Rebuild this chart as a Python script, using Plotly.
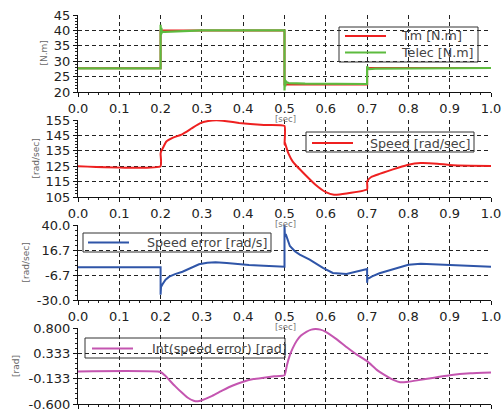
import plotly.graph_objects as go

# ---------------- data ----------------
x_ticks = [0.0, 0.1, 0.2, 0.3, 0.4, 0.5, 0.6, 0.7, 0.8, 0.9, 1.0]

t_tm = [0, 0.2, 0.2, 0.5, 0.5, 0.7, 0.7, 1.0]
tm = [27.7, 27.7, 40.0, 40.0, 22.4, 22.4, 27.8, 27.8]

t_telec = [0, 0.2, 0.2, 0.201, 0.202, 0.203, 0.205, 0.21, 0.25, 0.3, 0.5,
           0.5, 0.501, 0.502, 0.503, 0.505, 0.51, 0.55, 0.7,
           0.7, 0.701, 0.702, 0.705, 0.72, 1.0]
telec = [27.7, 27.7, 41.8, 38.5, 40.8, 39.2, 39.6, 39.5, 39.8, 40.0, 40.0,
         20.5, 24.0, 21.8, 23.6, 23.2, 22.9, 22.7, 22.6,
         28.4, 27.2, 28.0, 27.4, 27.6, 27.8]

t_speed = [0, 0.2, 0.2, 0.201, 0.205, 0.214, 0.23, 0.252, 0.275, 0.295, 0.315, 0.335,
           0.36, 0.39, 0.417, 0.45, 0.5, 0.5, 0.501, 0.503, 0.51, 0.52, 0.53, 0.55,
           0.575, 0.6, 0.62, 0.65, 0.7, 0.7, 0.701, 0.71, 0.73, 0.75, 0.775, 0.8,
           0.83, 0.87, 0.9, 0.95, 1.0]
speed = [125, 125, 133, 134.5, 136.5, 141, 143.5, 145.7, 149.5, 152.8, 154.3, 154.8,
         154.2, 153.1, 152.4, 151.8, 151.2, 139, 140.5, 138.5, 133, 128, 125, 119.5,
         113, 108.2, 106.5, 107.3, 110, 114.5, 115.5, 118, 120, 121.8, 124, 126,
         127, 126.6, 125.8, 125.3, 125.1]

t_err = [0, 0.2, 0.2, 0.201, 0.205, 0.212, 0.221, 0.235, 0.253, 0.273, 0.293, 0.313,
         0.333, 0.36, 0.385, 0.414, 0.45, 0.5, 0.5, 0.501, 0.503, 0.505, 0.513,
         0.525, 0.537, 0.561, 0.593, 0.617, 0.65, 0.7, 0.7, 0.701, 0.705, 0.712,
         0.73, 0.756, 0.78, 0.8, 0.83, 0.87, 0.9, 0.95, 1.0]
err = [0.5, 0.5, -25, -18, -15, -11, -8.2, -5.8, -3.6, -0.2, 3.3, 4.8,
       5.2, 4.6, 3.6, 2.7, 2.0, 1.1, 40, 30, 31.5, 29.6, 20.4,
       15.5, 12.3, 7.6, 0.0, -4.8, -5.7, -1.1, -14, -10, -9.5, -7.9,
       -5.0, -2.3, 0.8, 2.8, 3.8, 3.2, 2.2, 1.3, 1.0]

t_int = [0, 0.2, 0.21, 0.22, 0.235, 0.25, 0.265, 0.28, 0.29, 0.3, 0.325, 0.35,
         0.375, 0.4, 0.425, 0.45, 0.475, 0.5, 0.506, 0.513, 0.52, 0.53, 0.54,
         0.553, 0.565, 0.575, 0.587, 0.6, 0.625, 0.65, 0.675, 0.7, 0.725, 0.75,
         0.765, 0.78, 0.8, 0.825, 0.85, 0.875, 0.9, 0.95, 1.0]
int_err = [0.0, -0.01, -0.07, -0.15, -0.27, -0.38, -0.48, -0.54, -0.55, -0.53, -0.45, -0.35,
           -0.26, -0.19, -0.14, -0.115, -0.09, -0.07, 0.12, 0.30, 0.43, 0.57, 0.66,
           0.73, 0.77, 0.78, 0.77, 0.73, 0.6, 0.45, 0.31, 0.19, 0.02, -0.1,
           -0.16, -0.2, -0.19, -0.16, -0.13, -0.1, -0.07, -0.035, -0.02]

y1_ticks = [20, 25, 30, 35, 40, 45]
y2_ticks = [105, 115, 125, 135, 145, 155]
y3_ticks = [-30.0, -6.667, 16.667, 40.0]
y3_text = ["-30.0", "-6.7", "16.7", "40.0"]
y4_ticks = [-0.6, -0.1333, 0.3333, 0.8]
y4_text = ["-0.600", "-0.133", "0.333", "0.800"]

series_names = ["Tm [N.m]", "Telec [N.m]", "Speed [rad/sec]",
                "Speed error [rad/s]", "Int(speed error) [rad]"]
y_titles = ["[N.m]", "[rad/sec]", "[rad/sec]", "[rad]"]
x_title = "[sec]"

# ---------------- styling ----------------
W, H = 502, 410
OFF = 0  # page body margin is removed by the post script below
XL, XR = 78, 491
panels = [(15, 92), (120, 197), (225, 300), (328, 404)]  # page pixel top/bottom
FONT = "DejaVu Sans"
GRID = dict(showgrid=True, gridcolor="#222", griddash="4px,3px", gridwidth=1)
COLORS = ["#ee2020", "#5dbb3f", "#ee2020", "#2f55a8", "#c455b0"]


def P(xpx):
    return (xpx - OFF) / W


def Q(ypx):
    return 1 - (ypx - OFF) / H


fig = go.Figure()
fig.add_trace(go.Scatter(x=t_tm, y=tm, mode="lines", name=series_names[0],
                         line=dict(color=COLORS[0], width=2), xaxis="x", yaxis="y"))
fig.add_trace(go.Scatter(x=t_telec, y=telec, mode="lines", name=series_names[1],
                         line=dict(color=COLORS[1], width=2.2), xaxis="x", yaxis="y"))
fig.add_trace(go.Scatter(x=t_speed, y=speed, mode="lines", name=series_names[2],
                         line=dict(color=COLORS[2], width=2, shape="spline", smoothing=0.4),
                         xaxis="x2", yaxis="y2"))
fig.add_trace(go.Scatter(x=t_err, y=err, mode="lines", name=series_names[3],
                         line=dict(color=COLORS[3], width=2), xaxis="x3", yaxis="y3"))
fig.add_trace(go.Scatter(x=t_int, y=int_err, mode="lines", name=series_names[4],
                         line=dict(color=COLORS[4], width=2, shape="spline", smoothing=0.4),
                         xaxis="x4", yaxis="y4"))

layout = dict(width=W, height=H, margin=dict(l=0, r=0, t=0, b=0, autoexpand=False),
              paper_bgcolor="white", plot_bgcolor="white",
              font=dict(family=FONT, size=13, color="#222"), showlegend=False)

yspecs = [
    dict(range=[20, 45], tickvals=y1_ticks, ticktext=[str(v) for v in y1_ticks],
         minor=dict(dtick=1, tick0=20, ticks="outside", ticklen=2, tickcolor="#222")),
    dict(range=[105, 155], tickvals=y2_ticks, ticktext=[str(v) for v in y2_ticks],
         minor=dict(dtick=2, tick0=105, ticks="outside", ticklen=2, tickcolor="#222")),
    dict(range=[-30, 40], tickvals=y3_ticks, ticktext=y3_text,
         minor=dict(dtick=70 / 15, tick0=-30, ticks="outside", ticklen=2, tickcolor="#222")),
    dict(range=[-0.6, 0.8], tickvals=y4_ticks, ticktext=y4_text,
         minor=dict(dtick=1.4 / 15, tick0=-0.6, ticks="outside", ticklen=2, tickcolor="#222")),
]

for i, (top, bot) in enumerate(panels):
    sfx = "" if i == 0 else str(i + 1)
    layout["xaxis" + sfx] = dict(
        domain=[P(XL), P(XR)], range=[0, 1], anchor="y" + sfx, automargin=False,
        tickvals=x_ticks, ticktext=[f"{v:.1f}" for v in x_ticks],
        showline=True, linecolor="#111", linewidth=1, ticks="outside", ticklen=4,
        tickcolor="#111", zeroline=False, showticklabels=(i < 3),
        ticklabeloverflow="allow", tickfont=dict(size=13, color="#222"),
        minor=dict(dtick=0.025, ticks="outside", ticklen=2, tickcolor="#222"),
        **GRID)
    layout["yaxis" + sfx] = dict(
        domain=[Q(bot), Q(top)], anchor="x" + sfx, tickmode="array", automargin=False,
        showline=True, linecolor="#111", linewidth=1, ticks="outside", ticklen=4,
        tickcolor="#111", zeroline=False, ticklabeloverflow="allow",
        tickfont=dict(size=13, color="#222"),
        **yspecs[i], **GRID)

shapes = []
ann = []

# legends drawn as boxes + sample lines + text
LEG_FONT = dict(family=FONT, size=12.7, color="#444")
legend_boxes = [(339, 478, 27, 62), (306, 474, 132, 152), (83, 271, 233, 252), (85, 285, 338, 358)]
legend_items = [  # (series index, line x0, line x1, y, text x)
    (0, 345, 386, 36, 399),
    (1, 345, 386, 52.5, 399),
    (2, 312, 353, 143, 368),
    (3, 88, 129, 242.5, 145),
    (4, 92, 133, 348.5, 150),
]
for (x0, x1, y0, y1) in legend_boxes:
    shapes.append(dict(type="rect", xref="paper", yref="paper", x0=P(x0), x1=P(x1),
                       y0=Q(y1), y1=Q(y0), line=dict(color="#333", width=1),
                       fillcolor="rgba(0,0,0,0)", layer="above"))
for (si, lx0, lx1, ly, tx) in legend_items:
    shapes.append(dict(type="line", xref="paper", yref="paper", x0=P(lx0), x1=P(lx1),
                       y0=Q(ly), y1=Q(ly), line=dict(color=COLORS[si], width=2), layer="above"))
    ann.append(dict(text=series_names[si], x=P(tx), y=Q(ly), xref="paper", yref="paper",
                    showarrow=False, font=LEG_FONT, xanchor="left", yanchor="middle"))

# axis titles
ytitle_x = [43, 35, 25, 16]
for txt, px, (top, bot) in zip(y_titles, ytitle_x, panels):
    ann.append(dict(text=txt, x=P(px), y=Q((top + bot) / 2), xref="paper", yref="paper",
                    showarrow=False, textangle=-90, font=dict(size=9, color="#666"),
                    xanchor="center", yanchor="middle"))
for ypx in [118.5, 223.5, 326.5]:
    ann.append(dict(text=x_title, x=P((XL + XR) / 2 + 1), y=Q(ypx), xref="paper", yref="paper",
                    showarrow=False, font=dict(size=8.5, color="#777"),
                    xanchor="center", yanchor="middle"))

layout["shapes"] = shapes
layout["annotations"] = ann
fig.update_layout(**layout)
fig.write_html("out.html", config={"displayModeBar": False},
               post_script="document.body.style.margin='0';document.body.style.overflow='hidden';")
